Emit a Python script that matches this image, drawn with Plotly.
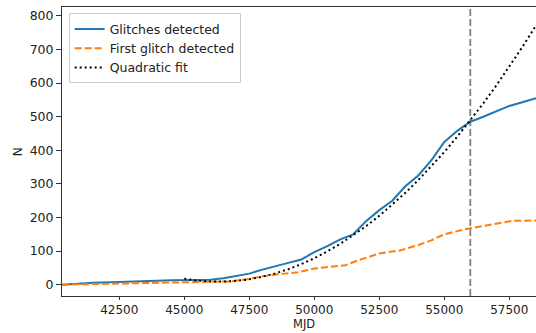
import plotly.graph_objects as go

# Glitches detected (cumulative)
mjd_all = [40300, 41000, 41500, 42500, 43500, 44500, 45500, 46000, 46500, 47000,
           47500, 48000, 48500, 49000, 49500, 50000, 50500, 51000, 51500, 52000,
           52500, 53000, 53500, 54000, 54500, 55000, 55500, 56000, 56500, 57000,
           57500, 58000, 58530]
n_all = [0, 4, 6, 8, 11, 13, 14, 15, 19, 25,
         33, 45, 56, 65, 75, 97, 115, 135, 150, 190,
         222, 250, 293, 325, 370, 425, 458, 485, 500, 515,
         532, 543, 555]

# First glitch detected (cumulative)
mjd_first = [40300, 42500, 44000, 45000, 46000, 46800, 47400, 48000, 48700, 49300,
             50000, 50700, 51200, 51700, 52500, 53300, 54000, 54500, 55000, 55800,
             56800, 57600, 58530]
n_first = [0, 3, 5, 7, 8, 10, 16, 25, 32, 36,
           48, 55, 58, 73, 93, 102, 118, 132, 150, 165,
           178, 190, 191]

# Quadratic fit
mjd_fit = [45000, 45500, 46000, 46500, 47000, 47500, 48000, 48500, 49000, 49500,
           50000, 50500, 51000, 51500, 52000, 52500, 53000, 53500, 54000, 54500,
           55000, 55500, 56000, 56500, 57000, 57500, 58000, 58500]
n_fit = [17.6, 12.3, 9.5, 9.2, 11.5, 16.3, 23.7, 33.7, 46.2, 61.2,
         78.8, 99.0, 121.7, 146.9, 174.7, 205.0, 237.9, 273.4, 311.4, 351.9,
         395.0, 440.7, 488.9, 539.6, 592.9, 648.7, 707.1, 768.1]

vline_mjd = [56000, 56000]
vline_n = [-33.6, 826.5]

x_ticks = [42500, 45000, 47500, 50000, 52500, 55000, 57500]
x_labels = ["42500", "45000", "47500", "50000", "52500", "55000", "57500"]
y_ticks = [0, 100, 200, 300, 400, 500, 600, 700, 800]
y_labels = ["0", "100", "200", "300", "400", "500", "600", "700", "800"]

FONT = "DejaVu Sans"
fig = go.Figure()
fig.add_trace(go.Scatter(x=vline_mjd, y=vline_n, mode="lines", showlegend=False,
                         line=dict(color="#808080", width=1.8, dash="7px,3px")))
fig.add_trace(go.Scatter(x=mjd_all, y=n_all, mode="lines", name="Glitches detected",
                         line=dict(color="#1f77b4", width=2)))
fig.add_trace(go.Scatter(x=mjd_first, y=n_first, mode="lines", name="First glitch detected",
                         line=dict(color="#ff7f0e", width=2, dash="7px,3px")))
fig.add_trace(go.Scatter(x=mjd_fit, y=n_fit, mode="lines", name="Quadratic fit",
                         line=dict(color="black", width=2, dash="2px,3px")))

fig.update_layout(
    width=536, height=333,
    margin=dict(l=62, r=0, t=7, b=37),
    plot_bgcolor="white", paper_bgcolor="white",
    font=dict(family=FONT, size=12.5, color="#222"),
    xaxis=dict(range=[40296, 58527], tickvals=x_ticks, ticktext=x_labels,
               ticks="outside", ticklen=3, tickfont=dict(size=12),
               tickcolor="#333", showline=True, linecolor="#333", linewidth=1,
               mirror=True, showgrid=False, zeroline=False),
    yaxis=dict(range=[-33.6, 826.5], tickvals=y_ticks, ticktext=y_labels,
               ticks="outside", ticklen=5,
               tickcolor="#333", showline=True, linecolor="#333", linewidth=1,
               mirror=True, showgrid=False, zeroline=False),
    legend=dict(x=0.0141, y=0.978, xanchor="left", yanchor="top",
                bgcolor="rgba(255,255,255,0.8)", bordercolor="#cccccc", borderwidth=1,
                font=dict(family=FONT, size=12.5), tracegroupgap=0),
    annotations=[
        dict(text="MJD", xref="paper", yref="paper", x=0.5105, y=-0.128,
             xanchor="center", yanchor="bottom", showarrow=False,
             font=dict(family=FONT, size=11.5)),
        dict(text="N", xref="paper", yref="paper", x=-0.093, y=0.5,
             xanchor="center", yanchor="middle", showarrow=False, textangle=-90,
             font=dict(family=FONT, size=12.5)),
    ],
)
fig.write_html("out.html")
